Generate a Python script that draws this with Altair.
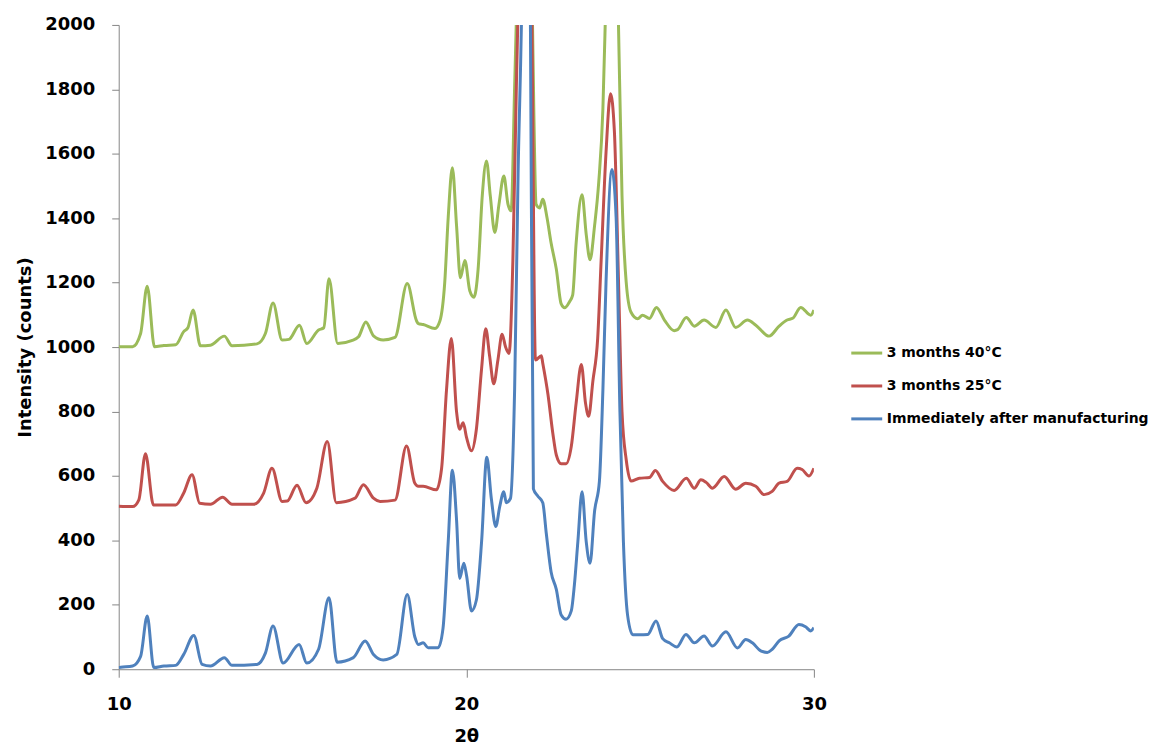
import altair as alt
import pandas as pd

series_names = ["3 months 40°C", "3 months 25°C", "Immediately after manufacturing"]
series_colors = ["#9BBB59", "#C0504D", "#4F81BD"]

x_ticks = [10, 20, 30]
y_ticks = [0, 200, 400, 600, 800, 1000, 1200, 1400, 1600, 1800, 2000]

# 3 months 40°C
green_x = [10.00, 10.40, 10.63, 10.82, 11.03, 11.30, 11.64, 11.87, 11.99, 12.14, 12.35, 12.64,
           13.04, 13.26, 13.98, 14.22, 14.44, 14.70, 14.90, 15.20, 15.41, 15.75, 15.90, 16.05,
           16.30, 16.70, 16.90, 17.11, 17.33, 17.61, 17.95, 18.30, 18.57, 18.62, 18.76, 19.10,
           19.24, 19.38, 19.48, 19.60, 19.72, 19.83, 19.96, 20.10, 20.22, 20.34, 20.46, 20.58,
           20.69, 20.82, 20.94, 21.08, 21.20, 21.29, 21.39, 21.46, 21.68, 21.89, 22.01, 22.11,
           22.20, 22.32, 22.44, 22.59, 22.73, 22.83, 22.97, 23.06, 23.16, 23.33, 23.45, 23.56,
           23.69, 23.81, 23.93, 24.02, 24.20, 24.36, 24.48, 24.60, 24.74, 24.93, 25.07, 25.27,
           25.47, 25.70, 25.98, 26.08, 26.33, 26.56, 26.84, 27.18, 27.47, 27.75, 28.09, 28.33,
           28.71, 29.00, 29.23, 29.40, 29.62, 29.91, 30.00]
green_y = [1001, 1001, 1042, 1189, 1001, 1005, 1007, 1048, 1060, 1115, 1004, 1006,
           1034, 1004, 1010, 1042, 1137, 1022, 1024, 1068, 1011, 1053, 1060, 1212,
           1011, 1020, 1032, 1078, 1035, 1022, 1030, 1197, 1081, 1073, 1070, 1058,
           1081, 1201, 1403, 1557, 1376, 1215, 1269, 1175, 1155, 1242, 1470, 1578,
           1470, 1356, 1443, 1531, 1443, 1423, 1806, 2100, 3500, 2100, 1443, 1432,
           1459, 1403, 1323, 1242, 1134, 1122, 1141, 1161, 1323, 1473, 1350, 1271,
           1376, 1511, 1739, 2100, 2800, 2100, 1470, 1202, 1108, 1088, 1099, 1089,
           1123, 1084, 1051, 1054, 1092, 1065, 1084, 1061, 1115, 1061, 1084, 1068,
           1034, 1065, 1084, 1090, 1123, 1099, 1115]

# 3 months 25°C
red_x = [10.00, 10.40, 10.58, 10.77, 11.00, 11.64, 11.87, 12.11, 12.33, 12.64, 12.99, 13.26,
         13.88, 14.17, 14.41, 14.70, 14.85, 15.13, 15.39, 15.70, 16.00, 16.26, 16.80, 17.04,
         17.33, 17.52, 17.95, 18.28, 18.52, 18.62, 18.76, 19.14, 19.29, 19.43, 19.57, 19.72,
         19.81, 19.91, 20.01, 20.15, 20.29, 20.44, 20.56, 20.67, 20.79, 20.91, 21.03, 21.13,
         21.23, 21.34, 21.44, 21.50, 21.70, 21.88, 21.99, 22.16, 22.20, 22.35, 22.49, 22.59,
         22.73, 22.87, 23.02, 23.16, 23.31, 23.43, 23.52, 23.64, 23.78, 23.88, 24.02, 24.15,
         24.26, 24.38, 24.48, 24.60, 24.74, 24.98, 25.27, 25.44, 25.65, 25.98, 26.33, 26.56,
         26.75, 26.90, 27.08, 27.42, 27.75, 28.04, 28.33, 28.57, 28.80, 29.00, 29.23, 29.52,
         29.66, 29.86, 30.00]
red_y = [506, 505, 526, 669, 510, 510, 547, 604, 515, 512, 534, 512,
         512, 547, 624, 521, 522, 571, 517, 562, 707, 517, 531, 573,
         531, 521, 525, 693, 577, 568, 568, 557, 624, 866, 1027, 799,
         745, 765, 718, 678, 745, 933, 1057, 973, 886, 960, 1040, 1000,
         980, 1269, 1806, 2100, 3500, 2100, 960, 973, 950, 853, 732, 665,
         638, 638, 691, 826, 946, 826, 785, 893, 1027, 1269, 1604, 1786,
         1671, 1202, 799, 651, 584, 593, 595, 617, 583, 555, 593, 562,
         588, 580, 562, 598, 559, 577, 568, 542, 552, 578, 583, 624,
         620, 600, 624]

# Immediately after manufacturing
blue_x = [10.00, 10.06, 10.40, 10.63, 10.82, 11.01, 11.30, 11.64, 11.87, 12.16, 12.40, 12.64,
          13.04, 13.26, 13.98, 14.22, 14.44, 14.73, 15.19, 15.41, 15.75, 16.05, 16.28, 16.75,
          17.09, 17.33, 17.61, 18.00, 18.30, 18.52, 18.62, 18.76, 18.90, 19.19, 19.33, 19.48,
          19.60, 19.72, 19.81, 19.93, 20.01, 20.15, 20.29, 20.44, 20.59, 20.72, 20.85, 20.96,
          21.08, 21.15, 21.27, 21.39, 21.49, 21.60, 21.73, 21.84, 21.93, 22.06, 22.20, 22.30,
          22.44, 22.59, 22.73, 22.87, 23.02, 23.11, 23.21, 23.33, 23.45, 23.56, 23.69, 23.83,
          23.93, 24.02, 24.19, 24.31, 24.42, 24.52, 24.64, 24.79, 24.98, 25.22, 25.46, 25.65,
          25.84, 26.06, 26.32, 26.56, 26.84, 27.08, 27.47, 27.80, 28.04, 28.23, 28.47, 28.66,
          28.80, 29.00, 29.28, 29.57, 29.76, 29.91, 30.00]
blue_y = [5, 6, 10, 40, 165, 5, 10, 12, 46, 105, 15, 10,
          36, 12, 15, 50, 134, 19, 77, 19, 62, 222, 22, 36,
          88, 46, 29, 46, 232, 100, 77, 82, 67, 67, 127, 396,
          618, 463, 282, 329, 289, 181, 215, 396, 658, 530, 443, 504,
          551, 517, 530, 867, 1537, 2100, 3500, 2100, 560, 537, 517, 423,
          302, 248, 168, 155, 181, 262, 396, 551, 396, 329, 490, 584,
          867, 1201, 1551, 1403, 799, 396, 168, 107, 107, 108, 150, 95,
          82, 69, 108, 82, 103, 72, 116, 66, 92, 82, 57, 52,
          62, 88, 103, 139, 132, 119, 129]

rows = []
for name, xs, ys in zip(series_names, [green_x, red_x, blue_x], [green_y, red_y, blue_y]):
    for i, (xv, yv) in enumerate(zip(xs, ys)):
        rows.append({"series": name, "two_theta": xv, "intensity": yv, "idx": i})
df = pd.DataFrame(rows)

FONT = "DejaVu Sans"
AXIS_GRAY = "#868686"

chart = alt.Chart(df).mark_line(
    strokeWidth=3, interpolate="monotone", clip=True
).encode(
    x=alt.X(
        "two_theta:Q",
        scale=alt.Scale(domain=[10, 30], nice=False, zero=False),
        axis=alt.Axis(
            values=x_ticks, title="2θ", grid=False, format="d",
            labelFont=FONT, labelFontSize=18, labelFontWeight="bold", labelColor="#000000",
            titleFont=FONT, titleFontSize=18, titleFontWeight="bold", titleColor="#000000",
            tickSize=8, tickColor=AXIS_GRAY, domainColor=AXIS_GRAY,
            labelPadding=18, titlePadding=14, labelFlush=False,
        ),
    ),
    y=alt.Y(
        "intensity:Q",
        scale=alt.Scale(domain=[0, 2000], nice=False),
        axis=alt.Axis(
            values=y_ticks, title="Intensity (counts)", grid=False, format="d",
            labelFont=FONT, labelFontSize=18, labelFontWeight="bold", labelColor="#000000",
            titleFont=FONT, titleFontSize=18, titleFontWeight="bold", titleColor="#000000",
            tickSize=7, tickColor=AXIS_GRAY, domainColor=AXIS_GRAY,
            labelPadding=17, titlePadding=10, labelFlush=False,
        ),
    ),
    color=alt.Color(
        "series:N",
        sort=series_names,
        scale=alt.Scale(domain=series_names, range=series_colors),
        legend=alt.Legend(
            title=None, orient="none", legendX=733, legendY=312,
            symbolType="stroke", symbolSize=961, symbolStrokeWidth=3,
            labelFont=FONT, labelFontSize=14, labelFontWeight="bold", labelColor="#000000",
            labelOffset=3, rowPadding=9, labelLimit=400,
        ),
    ),
    order="idx:Q",
).properties(
    width=697, height=646,
    padding={"left": 8, "top": 7, "right": 0, "bottom": 0},
).configure_view(stroke=None)

chart.save("out.html", embed_options={"renderer": "svg", "actions": False})
